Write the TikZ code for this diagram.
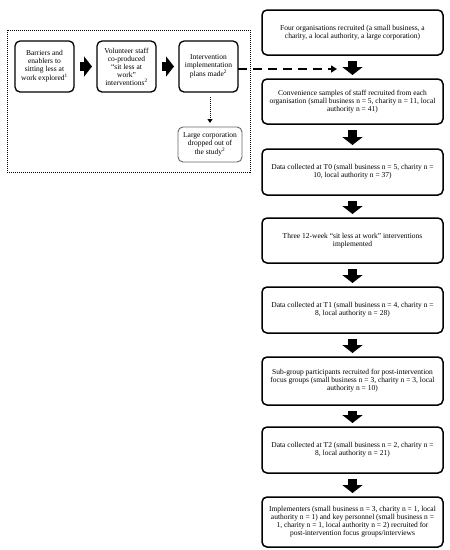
\documentclass[tikz,border=0pt]{standalone}
\usepackage{fontspec}
\setmainfont{Liberation Serif}
\usetikzlibrary{arrows.meta}
\begin{document}
\begin{tikzpicture}[x=1pt,y=-1pt,
  every node/.style={font=\fontsize{7.5}{8}\selectfont, align=center, inner sep=0pt, outer sep=0pt},
  rbox/.style={draw, line width=1.5pt, rounded corners=5pt, minimum width=181pt},
  lbox/.style={draw, line width=1.3pt, rounded corners=5pt, minimum width=59pt, minimum height=51pt},
  gbox/.style={draw=black!60, line width=0.9pt, rounded corners=5pt, minimum width=64pt, minimum height=35pt},
  blockarr/.style={line width=9pt, -{Triangle[width=20pt,length=8pt]}},
  dotframe/.style={line width=1pt, dash pattern=on 1pt off 1pt},
  dasharr/.style={line width=1.8pt, dash pattern=on 9pt off 6pt, -{Triangle[width=7pt,length=6pt]}},
  dotarr/.style={line width=1pt, dash pattern=on 1pt off 1pt, -{Triangle[width=5pt,length=4pt]}}
]
\useasboundingbox (0,0) rectangle (450,550);
\fill[white] (0,0) rectangle (450,550);

% dotted frame
\draw[dotframe] (7,30) rectangle (250,172);

% left boxes
\node[lbox] (b1) at (44.5,66.5) {Barriers and\\enablers to\\sitting less at\\work explored\textsuperscript{1}};
\node[lbox] (b2) at (126.5,66.5) {Volunteer staff\\co-produced\\“sit less at\\work”\\interventions\textsuperscript{2}};
\node[lbox] (b3) at (208.5,66.5) {Intervention\\implementation\\plans made\textsuperscript{2}};
\node[gbox] (lc) at (210,144.5) {Large corporation\\dropped out of\\the study\textsuperscript{2}};

% right column
\node[rbox, minimum height=45pt] (r1) at (352.5,32.5) {Four organisations recruited (a small business, a\\charity, a local authority, a large corporation)};
\node[rbox, minimum height=45pt] (r2) at (352.5,101.5) {Convenience samples of staff recruited from each\\organisation (small business n = 5, charity n = 11, local\\authority n = 41)};
\node[rbox, minimum height=46pt] (r3) at (352.5,172) {Data collected at T0 (small business n = 5, charity n =\\10, local authority n = 37)};
\node[rbox, minimum height=45pt] (r4) at (352.5,240.5) {Three 12-week “sit less at work” interventions\\implemented};
\node[rbox, minimum height=46pt] (r5) at (352.5,310) {Data collected at T1 (small business n = 4, charity n =\\8, local authority n = 28)};
\node[rbox, minimum height=48pt] (r6) at (352.5,381) {Sub-group participants recruited for post-intervention\\focus groups (small business n = 3, charity n = 3, local\\authority n = 10)};
\node[rbox, minimum height=46pt] (r7) at (352.5,450) {Data collected at T2 (small business n = 2, charity n =\\8, local authority n = 21)};
\node[rbox, minimum height=50pt] (r8) at (352.5,522) {Implementers (small business n = 3, charity n = 1, local\\authority n = 1) and key personnel (small business n =\\1, charity n = 1, local authority n = 2) recruited for\\post-intervention focus groups/interviews};

% block arrows
\draw[blockarr, shorten <=6pt, shorten >=5pt] (b1.east) -- (b2.west);
\draw[blockarr, shorten <=6pt, shorten >=5pt] (b2.east) -- (b3.west);
\foreach \a/\b in {r1/r2,r2/r3,r3/r4,r4/r5,r5/r6,r6/r7,r7/r8}
  \draw[blockarr, shorten <=6pt, shorten >=4pt] (\a.south) -- (\b.north);

% dashed arrow
\coordinate (dashend) at (337,69);
\draw[dasharr] (b3.east |- dashend) -- (dashend);

% dotted arrow
\draw[dotarr, shorten <=5pt, shorten >=4pt] (b3.south -| lc.north) -- (lc.north);
\end{tikzpicture}
\end{document}
